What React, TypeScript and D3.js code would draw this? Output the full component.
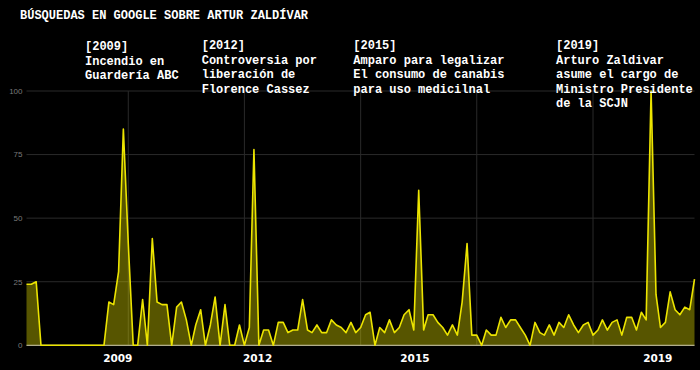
import React from "react";
import * as d3 from "d3";

const W = 700;
const H = 370;

const title = "BÚSQUEDAS EN GOOGLE SOBRE ARTUR ZALDÍVAR";

// first month of the monthly series
const startMonth = "2008-04-01";

// monthly interest (0-100), one value per month from April 2008
const interest = [
  24, 24, 25, 0, 0, 0, 0, 0, 0, 0, 0, 0, 0, 0, 0, 0,
  0, 17, 16, 29, 85, 40, 0, 0, 18, 0, 42, 17, 16, 16,
  0, 15, 17, 10, 0, 8, 14, 0, 8, 19, 0, 16, 0, 0,
  8, 0, 7, 77, 0, 6, 6, 0, 9, 9, 5, 6, 6, 18,
  6, 5, 8, 5, 5, 10, 8, 7, 5, 9, 5, 7, 12, 13,
  0, 7, 5, 10, 5, 7, 12, 14, 6, 61, 6, 12, 12, 9,
  7, 4, 8, 4, 17, 40, 4, 4, 0, 6, 4, 4, 11, 7,
  10, 10, 7, 4, 0, 9, 5, 4, 8, 4, 9, 7, 12, 8,
  5, 8, 9, 4, 6, 10, 6, 9, 10, 4, 11, 11, 6, 13,
  10, 100, 20, 7, 9, 21, 14, 12, 15, 14, 26,
];

const yTicks = [0, 25, 50, 75, 100];

// year labels under the chart and where they sit on the time axis
const yearLabelDates = ["2009-10-27", "2012-03-24", "2014-12-08", "2019-02-12"];
const yearLabels = ["2009", "2012", "2015", "2019"];

// annotation texts, anchored at dates
const annotationDates = ["2009-05-01", "2012-04-01", "2015-04-01", "2019-05-01"];
const annotationLines = [
  ["[2009]", "Incendio en", "Guardería ABC"],
  ["[2012]", "Controversia por", "liberación de", "Florence Cassez"],
  ["[2015]", "Amparo para legalizar", "El consumo de canabis", "para uso medicilnal"],
  ["[2019]", "Arturo Zaldivar", "asume el cargo de", "Ministro Presidente", "de la SCJN"],
];

export default function App() {
  const start = new Date(startMonth + "T00:00:00");
  const data = interest.map((v, i) => ({ date: d3.timeMonth.offset(start, i), value: v }));
  const end = data[data.length - 1].date;

  const margin = { left: 26.5, right: 5.5, top: 91, bottom: 24.7 };
  const x = d3.scaleTime().domain([start, end]).range([margin.left, W - margin.right]);
  const y = d3.scaleLinear().domain([0, 100]).range([H - margin.bottom, margin.top]);

  const area = d3
    .area<{ date: Date; value: number }>()
    .x((d) => x(d.date))
    .y0(y(0))
    .y1((d) => y(d.value));
  const line = d3
    .line<{ date: Date; value: number }>()
    .x((d) => x(d.date))
    .y((d) => y(d.value));

  const vTicks = x.ticks(d3.timeYear.every(2) as any).filter((t) => x(t) > margin.left + 2);

  const mono = "'Courier New', 'Liberation Mono', monospace";

  return (
    <svg
      width={W}
      height={H}
      style={{ position: "absolute", left: 0, top: 0, background: "#000" }}
    >
      <rect x={0} y={0} width={W} height={H} fill="#000" />

      {/* horizontal grid */}
      {yTicks.map((t) => (
        <g key={"h" + t}>
          <line
            x1={margin.left}
            x2={W - margin.right}
            y1={y(t)}
            y2={y(t)}
            stroke="#2a2a2a"
            strokeWidth={1}
          />
          <text
            x={22.5}
            y={y(t)}
            dy="0.35em"
            textAnchor="end"
            fontFamily="'Liberation Sans', Arial, sans-serif"
            fontSize={8}
            fill="#7a7a7a"
          >
            {t}
          </text>
        </g>
      ))}

      {/* vertical grid */}
      {vTicks.map((t, i) => (
        <line
          key={"v" + i}
          x1={x(t)}
          x2={x(t)}
          y1={y(100)}
          y2={y(0)}
          stroke="#2a2a2a"
          strokeWidth={1}
        />
      ))}

      <path d={area(data) || ""} fill="#e6e000" fillOpacity={0.38} />
      <line
        x1={margin.left}
        x2={W - margin.right}
        y1={y(0)}
        y2={y(0)}
        stroke="#b0ad8a"
        strokeWidth={1.2}
      />
      <path
        d={line(data) || ""}
        fill="none"
        stroke="#ece400"
        strokeWidth={1.6}
        strokeLinejoin="round"
      />

      {/* year labels */}
      {yearLabels.map((lab, i) => (
        <text
          key={"yl" + i}
          x={x(new Date(yearLabelDates[i] + "T00:00:00"))}
          y={361.7}
          textAnchor="middle"
          fontFamily="'DejaVu Sans', Verdana, sans-serif"
          fontWeight="bold"
          fontSize={10.5}
          fill="#fff"
        >
          {lab}
        </text>
      ))}

      {/* title */}
      <text x={20} y={19} fontFamily={mono} fontWeight="bold" fontSize={12} fill="#fff">
        {title}
      </text>

      {/* annotations */}
      {annotationLines.map((lines, i) => {
        const ax = [85, 201.7, 353.3, 556][i];
        const by = i === 0 ? 50 : 49;
        return (
          <text
            key={"an" + i}
            x={ax}
            y={by}
            fontFamily={mono}
            fontWeight="bold"
            fontSize={12}
            fill="#fff"
            data-date={annotationDates[i]}
          >
            {lines.map((l, j) => (
              <tspan key={j} x={ax} y={by + j * 14.5}>
                {l}
              </tspan>
            ))}
          </text>
        );
      })}
    </svg>
  );
}
